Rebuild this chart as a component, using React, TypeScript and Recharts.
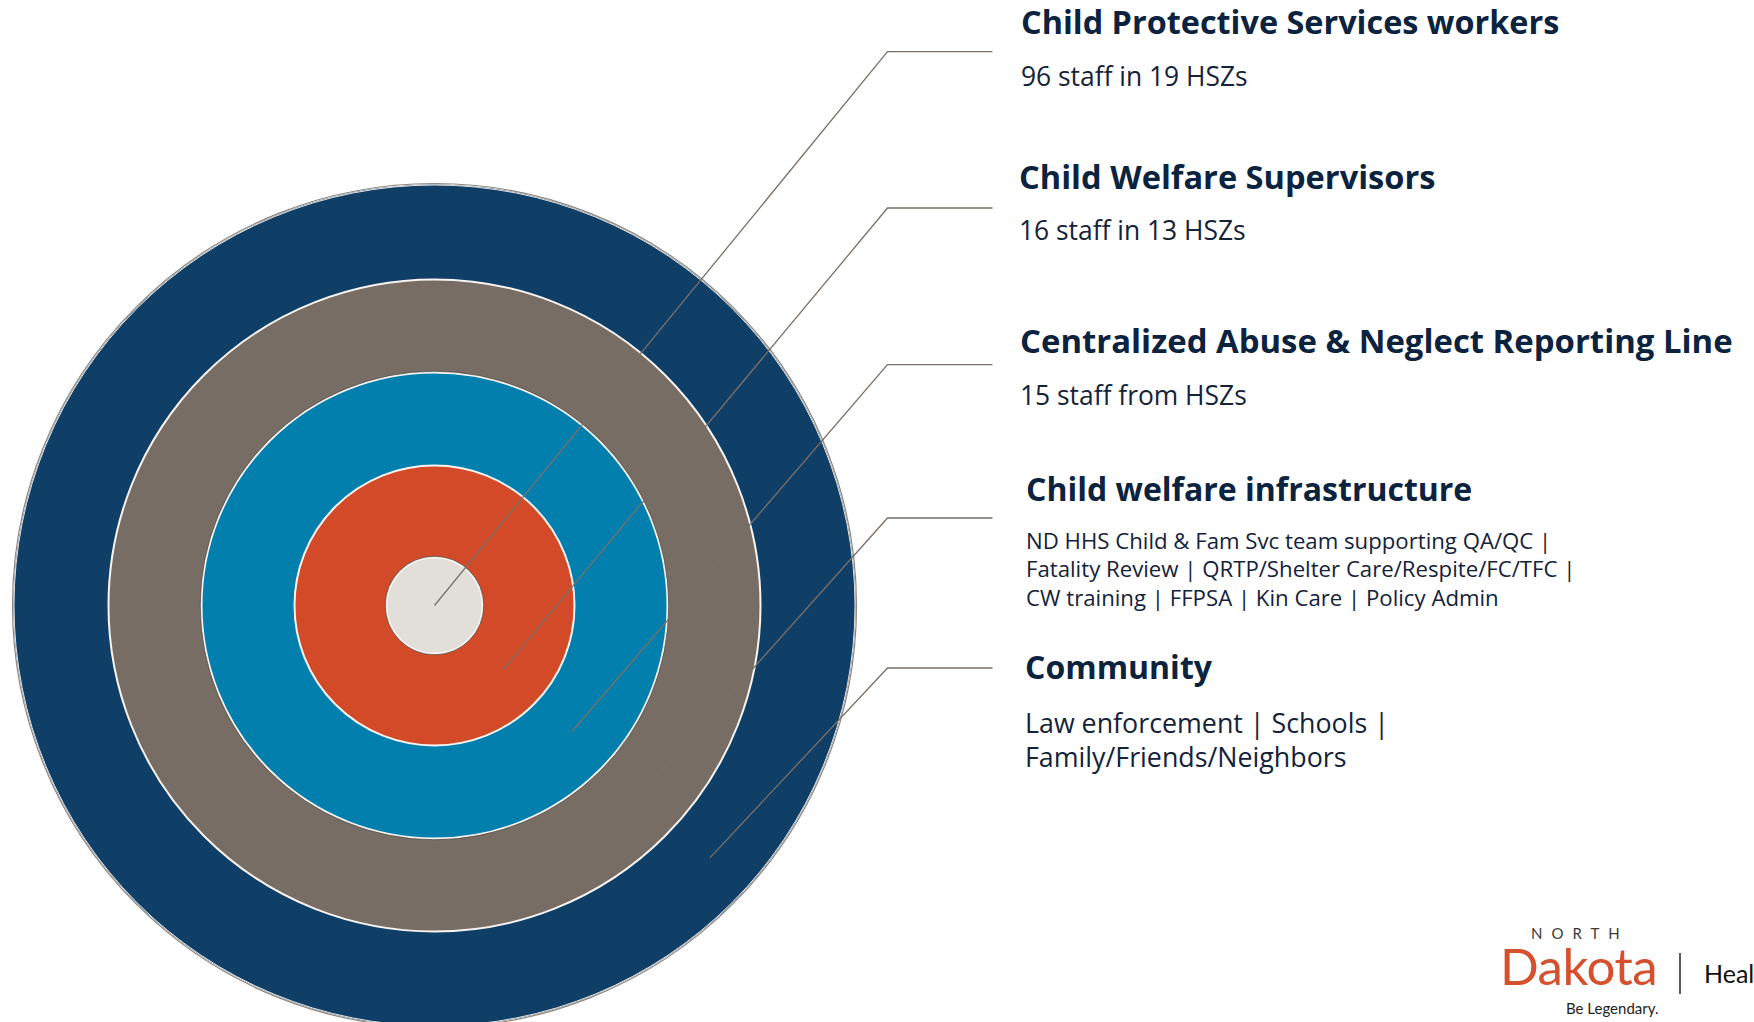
import React from 'react';
import { PieChart, Pie, Cell } from 'recharts';

// ---------- data ----------
const layerNames = [
  'Child Protective Services workers',
  'Child Welfare Supervisors',
  'Centralized Abuse & Neglect Reporting Line',
  'Child welfare infrastructure',
  'Community',
];
// each layer is drawn as one full ring of the target
const layerValues = [1, 1, 1, 1, 1];
const layerDetails: string[][] = [
  ['96 staff in 19 HSZs'],
  ['16 staff in 13 HSZs'],
  ['15 staff from HSZs'],
  [
    'ND HHS Child & Fam Svc team supporting QA/QC |',
    'Fatality Review | QRTP/Shelter Care/Respite/FC/TFC |',
    'CW training | FFPSA | Kin Care | Policy Admin',
  ],
  ['Law enforcement | Schools |', 'Family/Friends/Neighbors'],
];
const logoTop = 'NORTH';
const logoMain = 'Dakota';
const logoTagline = 'Be Legendary.';
const logoSide = 'Heal';

// ---------- layout / style ----------
const W = 1754;
const H = 1022;
const CX = 434.5;
const CY = 605.5;
const ringRadii: [number, number][] = [
  [0, 48],
  [48, 140],
  [140, 233],
  [233, 326],
  [326, 421],
];
const layerColors = ['#e2dfda', '#d24a27', '#037fae', '#776d64', '#0f3e67'];
const titleX = [1021, 1019, 1020, 1026, 1025];
const titleY = [34, 189, 353, 501, 679];
const titleSize = [32.4, 32.6, 32.9, 32, 32];
const detailY = [[86], [240], [405], [549, 577, 606], [733, 767]];
const detailSize = [26.4, 26.4, 26.4, 22.2, 26.8];
const anchorY = [51.7, 208, 364.7, 518, 668];
const LEAD_X0 = 887.5;
const LEAD_X1 = 992.5;
const LEAD_ANGLE = 42.5; // degrees below horizontal
const TITLE_COLOR = '#0c2340';
const BODY_COLOR = '#14223a';
const LINE_COLOR = '#7a7068';
const FONT = '"Open Sans", "Noto Sans", sans-serif';
const LOGO_FONT = 'Lato, "Noto Sans", sans-serif';

const polar = (r: number, deg: number) => {
  const t = (deg * Math.PI) / 180;
  return { x: CX + r * Math.cos(t), y: CY + r * Math.sin(t) };
};

const Overlay = () => (
  <svg
    width={W}
    height={H}
    style={{ position: 'absolute', left: 0, top: 0, pointerEvents: 'none' }}
  >
    {/* ring borders */}
    <circle cx={CX} cy={CY} r={ringRadii[4][1] + 1} fill="none" stroke="#8c8782" strokeWidth={1.2} />
    <circle cx={CX} cy={CY} r={ringRadii[4][1] - 0.5} fill="none" stroke="#e8e4e0" strokeWidth={1} />
    {ringRadii.slice(0, 4).map(([, r], i) => (
      <circle key={i} cx={CX} cy={CY} r={r} fill="none" stroke="#f7f4f1" strokeWidth={2} />
    ))}
    <circle cx={CX} cy={CY} r={ringRadii[0][1] + 1.3} fill="none" stroke="#5c5550" strokeWidth={0.8} />
    <circle cx={CX} cy={CY} r={ringRadii[2][1] + 1.3} fill="none" stroke="#4f4a46" strokeWidth={0.7} />

    {layerNames.map((name, i) => {
      const [r0, r1] = ringRadii[i];
      const end = polar(i === 0 ? 0 : (r0 + r1) / 2, LEAD_ANGLE);
      return (
        <g key={name}>
          <polyline
            points={`${LEAD_X1},${anchorY[i]} ${LEAD_X0},${anchorY[i]} ${end.x},${end.y}`}
            fill="none"
            stroke={LINE_COLOR}
            strokeWidth={1.3}
          />
          <text
            x={titleX[i]}
            y={titleY[i]}
            fontFamily={FONT}
            fontWeight={700}
            fontSize={titleSize[i]}
            fill={TITLE_COLOR}
          >
            {name}
          </text>
          {layerDetails[i].map((line, j) => (
            <text
              key={j}
              x={titleX[i]}
              y={detailY[i][j]}
              fontFamily={FONT}
              fontSize={detailSize[i]}
              fill={BODY_COLOR}
            >
              {line}
            </text>
          ))}
        </g>
      );
    })}

    {/* logo */}
    <text x={1531} y={939} fontFamily={LOGO_FONT} fontSize={15} letterSpacing={9} fill="#3a3a3a">
      {logoTop}
    </text>
    <text x={1500} y={985} fontFamily={LOGO_FONT} fontSize={51} letterSpacing={-0.5} fill="#d6502d">
      {logoMain}
    </text>
    <text x={1566} y={1014} fontFamily={LOGO_FONT} fontSize={15} fill="#222">
      {logoTagline}
    </text>
    <line x1={1680} y1={953} x2={1680} y2={994} stroke="#222" strokeWidth={1.5} />
    <text x={1704} y={983} fontFamily={LOGO_FONT} fontSize={25} fill="#111">
      {logoSide}
    </text>
  </svg>
);

export default function App() {
  return (
    <div
      style={{
        position: 'absolute',
        left: 0,
        top: 0,
        width: W,
        height: H,
        background: '#fff',
        overflow: 'hidden',
      }}
    >
      <PieChart width={W} height={H} margin={{ top: 0, right: 0, bottom: 0, left: 0 }}>
        {layerNames.map((name, i) => (
          <Pie
            key={name}
            data={[{ name, value: layerValues[i] }]}
            dataKey="value"
            cx={CX}
            cy={CY}
            innerRadius={ringRadii[i][0]}
            outerRadius={ringRadii[i][1]}
            startAngle={90}
            endAngle={-270}
            stroke="none"
            isAnimationActive={false}
          >
            <Cell fill={layerColors[i]} stroke="none" />
          </Pie>
        ))}
      </PieChart>
      <Overlay />
    </div>
  );
}
